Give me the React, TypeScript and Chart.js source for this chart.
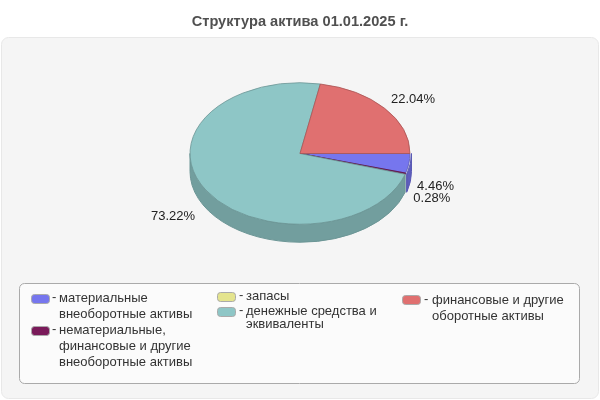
import { useEffect, useRef } from 'react'
import { Chart, registerables } from 'chart.js'

Chart.register(...registerables)

const categories = [
  'материальные внеоборотные активы',
  'нематериальные, финансовые и другие внеоборотные активы',
  'запасы',
  'денежные средства и эквиваленты',
  'финансовые и другие оборотные активы',
]
const shares = [4.46, 0.28, 0, 73.22, 22.04]
const sliceColors = ['#7676ee', '#7a1a5a', '#e4e48e', '#8ec6c6', '#e07070']
const wallColors = ['#5e5ebe', '#5e5ebe', '#b6b672', '#729e9e', '#b35a5a']
const wallEdges = ['#5a5ab4', '#5a5ab4', '#adad6c', '#6c9696', '#aa5555']
const edgeColors = ['#5a5ab4', '#5c1444', '#adad6c', '#6c9696', '#aa5555']

const legendLines = [
  ['материальные', 'внеоборотные активы'],
  ['нематериальные,', 'финансовые и другие', 'внеоборотные активы'],
  ['запасы'],
  ['денежные средства и', 'эквиваленты'],
  ['финансовые и другие', 'оборотные активы'],
]

const FONT = '"Liberation Sans", Arial, sans-serif'
const SQUASH = 0.643
const DEPTH = 18

// where each legend entry sits: swatch x, swatch y, dash x, text x, first baseline, line step
const legendSlots = [
  { x: 31, y: 294, dash: 52, tx: 59, text: 302, step: 16 },
  { x: 31, y: 326, dash: 52, tx: 59, text: 334, step: 16 },
  { x: 217, y: 292, dash: 239, tx: 246, text: 300, step: 13 },
  { x: 217, y: 307, dash: 239, tx: 246, text: 315, step: 13 },
  { x: 402, y: 295, dash: 424, tx: 432, text: 304, step: 16 },
]

function roundBox(ctx: CanvasRenderingContext2D, x: number, y: number, w: number, h: number, r: number, fill: string, line: string) {
  ctx.beginPath()
  ctx.roundRect(x + 0.5, y + 0.5, w, h, r)
  ctx.fillStyle = fill
  ctx.fill()
  ctx.strokeStyle = line
  ctx.lineWidth = 1
  ctx.stroke()
}

const panelPlugin = {
  id: 'panel',
  beforeDraw(chart: Chart) {
    const ctx = chart.ctx
    ctx.save()
    roundBox(ctx, 1, 37, 597, 361, 7, '#f5f5f5', '#e8e8e8')
    roundBox(ctx, 19, 283, 560, 100, 5, '#fbfbfb', '#aaaaaa')
    ctx.textAlign = 'left'
    ctx.textBaseline = 'alphabetic'
    ctx.font = '13px ' + FONT
    categories.forEach((_, i) => {
      const slot = legendSlots[i]
      roundBox(ctx, slot.x, slot.y, 18, 9, 3, sliceColors[i], '#aaaaaa')
      ctx.fillStyle = '#333333'
      ctx.fillText('-', slot.dash, slot.text - 1)
      legendLines[i].forEach((line, n) => {
        ctx.fillText(line, slot.tx, slot.text + n * slot.step)
      })
    })
    ctx.restore()
  },
}

const tiltPlugin = {
  id: 'tilt',
  beforeDatasetsDraw(chart: Chart) {
    const ctx = chart.ctx
    const arcs = chart.getDatasetMeta(0).data as any[]
    const { x, y, outerRadius } = arcs[0]
    const ry = outerRadius * SQUASH
    ctx.save()
    // front wall of the pie, only the part of each slice that faces the viewer
    arcs.forEach((arc, i) => {
      const from = Math.max(arc.startAngle, 0)
      const to = Math.min(arc.endAngle, Math.PI)
      if (to <= from) return
      // the slices before the big one poke out a little on the right in the original
      const wx = i < 2 ? x + 1.5 : x
      ctx.beginPath()
      ctx.ellipse(wx, y, outerRadius, ry, 0, from, to)
      ctx.ellipse(wx, y + DEPTH, outerRadius, ry, 0, to, from, true)
      ctx.closePath()
      ctx.fillStyle = wallColors[i]
      ctx.strokeStyle = wallEdges[i]
      ctx.lineWidth = 1
      ctx.fill()
      ctx.stroke()
    })
    ctx.translate(x, y)
    ctx.scale(1, SQUASH)
    ctx.translate(-x, -y)
  },
  afterDatasetsDraw(chart: Chart) {
    const ctx = chart.ctx
    ctx.restore()
    const arcs = chart.getDatasetMeta(0).data as any[]
    ctx.save()
    ctx.font = '13px ' + FONT
    ctx.fillStyle = '#222222'
    ctx.textBaseline = 'middle'
    arcs.forEach((arc, i) => {
      if (!shares[i]) return
      const mid = (arc.startAngle + arc.endAngle) / 2
      const cos = Math.cos(mid)
      const sin = Math.sin(mid)
      const ry = arc.outerRadius * SQUASH
      const lx = arc.x + arc.outerRadius * cos * (cos > 0 ? 1.075 : 1.115)
      const ly = arc.y + (sin > 0 ? ry * sin * 1.1 + 22.5 : ry * sin * 1.2)
      ctx.textAlign = cos > 0 ? 'left' : 'right'
      ctx.fillText(shares[i].toFixed(2) + '%', lx, ly)
    })
    ctx.restore()
  },
}

export default function App() {
  const chartRef = useRef<HTMLCanvasElement>(null)

  useEffect(() => {
    document.body.style.margin = '0'
    if (!chartRef.current) return
    const chart = new Chart(chartRef.current, {
      type: 'pie',
      data: {
        labels: categories,
        datasets: [{
          data: shares,
          backgroundColor: sliceColors,
          borderColor: edgeColors,
          borderWidth: 1,
        }],
      },
      options: {
        responsive: false,
        animation: false,
        rotation: 90,
        layout: { padding: { left: 189, right: 189, top: 0, bottom: 136 } },
        plugins: {
          legend: { display: false },
          tooltip: { enabled: false },
          title: {
            display: true,
            text: 'Структура актива 01.01.2025 г.',
            color: '#505050',
            font: { family: FONT, size: 14.6, weight: 'bold' },
            padding: { top: 13, bottom: 12.5 },
          },
        },
      },
      plugins: [panelPlugin, tiltPlugin],
    } as any)
    return () => chart.destroy()
  }, [])

  return <canvas ref={chartRef} width={600} height={400} style={{ display: 'block' }} />
}
